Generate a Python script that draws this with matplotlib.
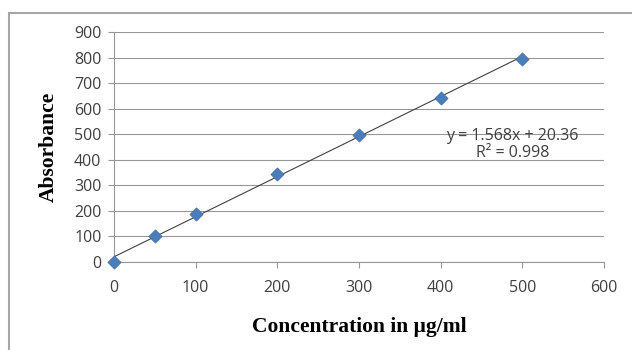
import numpy as np
import matplotlib
matplotlib.use('Agg')
import matplotlib.pyplot as plt
from matplotlib.patches import Rectangle

# Calibration data
concentration = [0, 50, 100, 200, 300, 400, 500]
absorbance = [0, 100, 188, 343, 497, 642, 796]
x_ticks = [0, 100, 200, 300, 400, 500, 600]
y_ticks = [0, 100, 200, 300, 400, 500, 600, 700, 800, 900]
slope, intercept = 1.568, 20.36
equation_text = 'y = 1.568x + 20.36\nR² = 0.998'

fig = plt.figure(figsize=(6.32, 3.5), dpi=100)
fig.patch.set_facecolor('white')

# outer chart frame (only left/top edges visible in the crop)
fig.patches.append(Rectangle((9 / 632, -0.1), 1.2, 1 - 13 / 350 + 0.1,
                             transform=fig.transFigure, fill=False,
                             edgecolor='#a6a6a6', linewidth=1.5))

ax = fig.add_axes([114 / 632, 1 - 262 / 350, (604 - 114) / 632, (262 - 32) / 350])
ax.set_xlim(0, 600)
ax.set_ylim(0, 900)
ax.set_xticks(x_ticks)
ax.set_yticks(y_ticks)

ax.grid(axis='y', color='#979797', linewidth=0.8)
ax.set_axisbelow(True)
for side in ['top', 'right']:
    ax.spines[side].set_visible(False)
for side in ['left', 'bottom']:
    ax.spines[side].set_color('#979797')
    ax.spines[side].set_linewidth(0.8)
ax.tick_params(colors='#979797', length=4, width=0.8, labelsize=11.5,
               labelcolor='#404040')
ax.tick_params(axis='x', pad=9)
ax.tick_params(axis='y', pad=5)
for lbl in ax.get_xticklabels() + ax.get_yticklabels():
    lbl.set_fontfamily('Open Sans')

# trend line
xl = np.array([min(concentration), max(concentration)])
ax.plot(xl, slope * xl + intercept, color='#404040', linewidth=0.8, zorder=3)
ax.scatter(concentration, absorbance, marker='D', s=45, color='#4a7ebb',
           edgecolor='#3d6ba3', linewidth=0.5, zorder=4, clip_on=False)

ax.text(488, 460, equation_text, ha='center', va='center', fontsize=11.5,
        color='#404040', family='Open Sans', linespacing=1.1)

ax.set_xlabel('Concentration in μg/ml', fontsize=15.5, fontweight='bold',
              family='Liberation Serif', labelpad=15)
ax.set_ylabel('Absorbance', fontsize=15.5, fontweight='bold',
              family='Liberation Serif', labelpad=11)

plt.savefig('out.png', dpi=100)
